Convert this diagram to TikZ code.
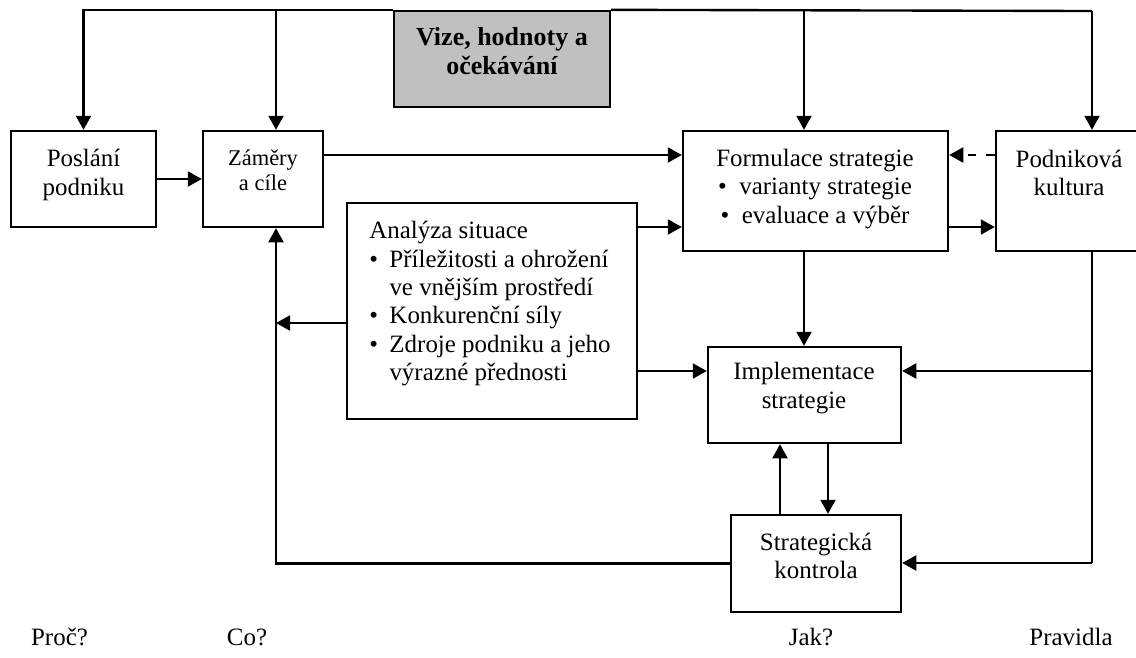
\documentclass[tikz,border=0pt]{standalone}
\usepackage{fontspec}
\setmainfont{Liberation Serif}
\usetikzlibrary{arrows.meta,fit}
\definecolor{visiongray}{RGB}{192,192,192}
\tikzset{
  box/.style={draw, line width=1.35pt, inner sep=0pt},
  txt/.style={font=\fontsize{14.2}{16.2}\selectfont, align=center, inner sep=0pt},
  caption/.style={font=\fontsize{14.2}{16.2}\selectfont, inner sep=0pt, anchor=base},
  arr/.style={line width=1.35pt, -{Triangle[length=8pt,width=8.5pt]}},
  ln/.style={line width=1.35pt},
}
\begin{document}
\begin{tikzpicture}[x=0.02cm, y=-0.02cm]
\useasboundingbox (0,0) rectangle (1136,657);

% boxes
\node[box, fill=visiongray, fit={(394,11) (610,107)}] (vize) {};
\node[box, fit={(11,131) (156,227)}] (poslani) {};
\node[box, fit={(203,131) (323,227)}] (zamery) {};
\node[box, fit={(683,131) (948,251)}] (formulace) {};
\node[box, fit={(996,131) (1150,251)}] (podnik) {};
\node[box, fit={(347,203) (637,419)}] (analyza) {};
\node[box, fit={(708,347) (901,443)}] (impl) {};
\node[box, fit={(731,515) (901,612)}] (kontrola) {};

% texts inside the boxes
\node[txt, font=\bfseries\fontsize{14.8}{16.8}\selectfont] (tvize) at (502,51) {Vize, hodnoty a\\očekávání};
\node[txt] (tposlani) at (83.5,175) {Poslání\\podniku};
\node[txt, font=\fontsize{12.8}{14.4}\selectfont] (tzamery) at (263,170) {Záměry\\a cíle};
\node[txt] (tformulace) at (815,189) {Formulace strategie\\\textbullet\ \ varianty strategie\\\textbullet\ \ evaluace a výběr};
\node[txt] (tpodnik) at (1069,173) {Podniková\\kultura};
\node[txt, anchor=west] (tanalyza) at (369,304) {%
  \begin{tabular}{@{}l@{\hspace{6.5pt}}l@{}}
  \multicolumn{2}{@{}l}{Analýza situace}\\
  \textbullet & Příležitosti a ohrožení\\
   & ve vnějším prostředí\\
  \textbullet & Konkurenční síly\\
  \textbullet & Zdroje podniku a jeho\\
   & výrazné přednosti
  \end{tabular}};
\node[txt] (timpl) at (804,388) {Implementace\\strategie};
\node[txt] (tkontrola) at (816,556) {Strategická\\kontrola};

% bottom captions
\node[caption] (lproc) at (59.5,645) {Proč?};
\node[caption] (lco) at (247,645) {Co?};
\node[caption] (ljak) at (811,645) {Jak?};
\node[caption] (lprav) at (1071,645) {Pravidla};

% junction points and connector levels
\coordinate (jz) at (276,11);
\coordinate (jf) at (804,11);
\coordinate (jp) at (1092,11);
\coordinate (ri) at (1092,371);
\coordinate (rk) at (1092,563);
\coordinate (la) at (276,323);
\coordinate (y155) at (0,155);
\coordinate (y227) at (0,227);
\coordinate (y371) at (0,371);
\coordinate (xup) at (780,0);
\coordinate (xdn) at (828,0);

% top distribution line
\draw[arr] (vize.north west) -| (poslani.north);
\draw[arr] (jz) -- (jz |- zamery.north);
\draw[ln] (vize.north east) -- (jp);
\draw[arr] (jf) -- (jf |- formulace.north);
\draw[arr] (jp) -- (jp |- podnik.north);

% horizontal flows
\draw[arr] (poslani.east) -- (zamery.west);
\draw[arr] (zamery.east |- y155) -- (formulace.west |- y155);
\draw[arr, dash pattern=on 5pt off 5.5pt] (podnik.west |- y155) -- (formulace.east |- y155);
\draw[arr] (analyza.east |- y227) -- (formulace.west |- y227);
\draw[arr] (formulace.east |- y227) -- (podnik.west |- y227);
\draw[arr] (analyza.east |- y371) -- (impl.west |- y371);
\draw[arr] (la -| analyza.west) -- (la);

% vertical flows
\draw[arr] (jf |- formulace.south) -- (jf |- impl.north);
\draw[arr] (xup |- kontrola.north) -- (xup |- impl.south);
\draw[arr] (xdn |- impl.south) -- (xdn |- kontrola.north);

% right-hand feedback from the culture box
\draw[ln] (jp |- podnik.south) -- (rk);
\draw[arr] (ri) -- (ri -| impl.east);
\draw[arr] (rk) -- (rk -| kontrola.east);

% control loop back to the objectives
\draw[arr] (kontrola.west) -| (jz |- zamery.south);
\end{tikzpicture}
\end{document}
